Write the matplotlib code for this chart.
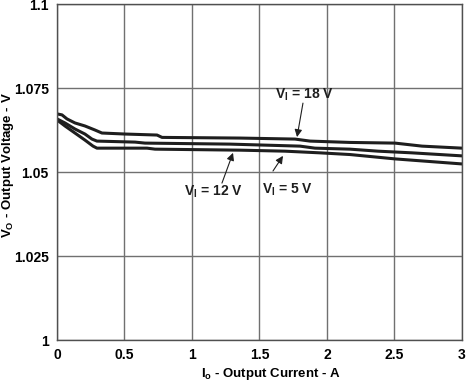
import matplotlib
matplotlib.use("Agg")
from matplotlib import pyplot as plt

plt.rcParams['font.family'] = ['Liberation Sans', 'DejaVu Sans']
plt.rcParams['font.weight'] = 'bold'
plt.rcParams['mathtext.default'] = 'regular'

# data (output current in A, output voltage in V)
i_18v = [0, 0.037, 0.074, 0.133, 0.207, 0.281, 0.333, 0.504, 0.741, 0.778,
         1.356, 1.763, 1.874, 2.170, 2.504, 2.704, 3.0]
v_18v = [1.0673, 1.0670, 1.0658, 1.0646, 1.0637, 1.0625, 1.0616, 1.0613, 1.0610, 1.0603,
         1.0601, 1.0598, 1.0592, 1.0588, 1.0586, 1.0577, 1.0571]

i_12v = [0, 0.059, 0.133, 0.207, 0.259, 0.296, 0.578, 0.652, 1.281, 1.8,
         1.911, 2.170, 2.378, 2.630, 3.0]
v_12v = [1.0658, 1.0646, 1.0628, 1.0613, 1.0598, 1.0592, 1.0589, 1.0586, 1.0583, 1.0577,
         1.0571, 1.0568, 1.0562, 1.0557, 1.0548]

i_5v = [0, 0.059, 0.133, 0.207, 0.267, 0.296, 0.667, 0.726, 1.356, 1.689,
        1.948, 2.170, 2.504, 3.0]
v_5v = [1.0655, 1.0637, 1.0616, 1.0595, 1.0577, 1.0571, 1.0571, 1.0568, 1.0565, 1.0562,
        1.0557, 1.0552, 1.0539, 1.0524]

x_ticks = [0, 0.5, 1, 1.5, 2, 2.5, 3]
x_labels = ["0", "0.5", "1", "1.5", "2", "2.5", "3"]
y_ticks = [1, 1.025, 1.05, 1.075, 1.1]
y_labels = ["1", "1.025", "1.05", "1.075", "1.1"]

# label text, text position, arrow tail, arrow tip
labels = [
    (r"V$_I$ = 18 V", (1.833, 1.0729), (1.822, 1.0705), (1.778, 1.0604)),
    (r"V$_I$ = 12 V", (1.156, 1.0440), (1.222, 1.0467), (1.304, 1.0557)),
    (r"V$_I$ = 5 V", (1.704, 1.0446), (1.600, 1.0503), (1.674, 1.0548)),
]

fig = plt.figure(figsize=(4.66, 3.81), dpi=100)
ax = fig.add_axes([0.1223, 0.1076, 0.8691, 0.8819])

line_color = '#1e1e1e'
for xs, ys in [(i_18v, v_18v), (i_12v, v_12v), (i_5v, v_5v)]:
    ax.plot(xs, ys, color=line_color, lw=2.2, solid_joinstyle='round')

for text, pos, tail, tip in labels:
    ax.text(pos[0], pos[1], text, ha='center', va='center', fontsize=10,
            fontweight='bold', color='#1e1e1e')
    ax.annotate("", xy=tip, xytext=tail,
                arrowprops=dict(arrowstyle='-|>', color='#1e1e1e', lw=0.8,
                                mutation_scale=11, shrinkA=0, shrinkB=0))

ax.set_xlim(0, 3)
ax.set_ylim(1, 1.1)
ax.set_xticks(x_ticks)
ax.set_xticklabels(x_labels)
ax.set_yticks(y_ticks)
ax.set_yticklabels(y_labels)
ax.tick_params(length=0, labelsize=10)
ax.tick_params(axis='y', pad=6)
ax.tick_params(axis='x', pad=6)
ax.grid(True, color='#707070', lw=1.0)
ax.set_axisbelow(True)
for sp in ax.spines.values():
    sp.set_color('#505050')
    sp.set_linewidth(1.0)

ax.set_xlabel(r"I$_o$ - Output Current - A", fontsize=9.5, fontweight='bold')
ax.set_ylabel(r"V$_O$ - Output Voltage - V", fontsize=9.5, fontweight='bold')
ax.xaxis.set_label_coords(0.528, -0.078)
ax.yaxis.set_label_coords(-0.100, 0.52)

fig.savefig("out.png", dpi=100)
